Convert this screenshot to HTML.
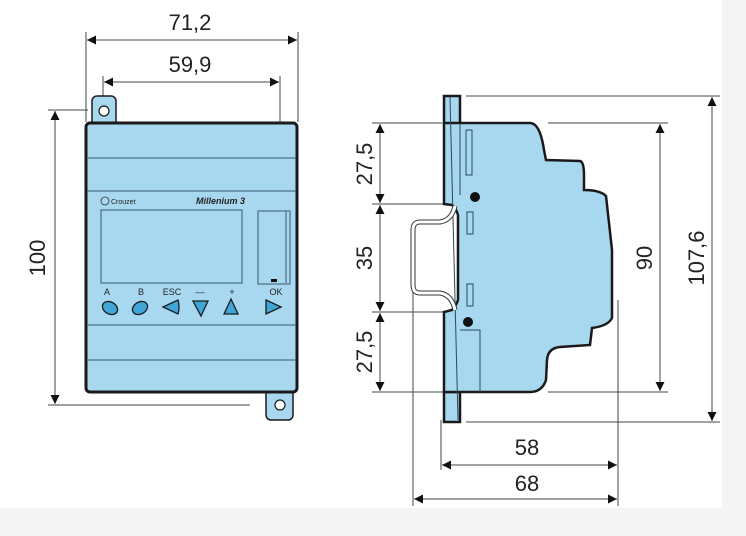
<!DOCTYPE html>
<html><head><meta charset="utf-8"><style>
html,body{margin:0;padding:0;background:#f4f4f4}
svg{display:block}
text{font-family:"Liberation Sans",sans-serif;fill:#222}
</style></head><body>
<svg width="746" height="536" viewBox="0 0 746 536" xmlns="http://www.w3.org/2000/svg">
<defs>
<marker id="a" viewBox="0 0 10 10" refX="10" refY="5" markerWidth="14" markerHeight="9" markerUnits="userSpaceOnUse" orient="auto-start-reverse"><path d="M0,0 L10,5 L0,10 z" fill="#111"/></marker>
</defs>
<rect x="0" y="0" width="722" height="508" fill="#fff"/>
<g stroke="#444" stroke-width="1" fill="none">
<line x1="86" y1="32" x2="86" y2="122"/><line x1="298" y1="32" x2="298" y2="122"/>
<line x1="103" y1="76" x2="103" y2="155"/><line x1="280" y1="76" x2="280" y2="420"/>
<line x1="87" y1="40" x2="297" y2="40" marker-start="url(#a)" marker-end="url(#a)"/>
<line x1="104" y1="82" x2="279" y2="82" marker-start="url(#a)" marker-end="url(#a)"/>
<line x1="48" y1="110" x2="88" y2="110"/><line x1="48" y1="405" x2="250" y2="405"/>
<line x1="55" y1="111" x2="55" y2="404" marker-start="url(#a)" marker-end="url(#a)"/>
<line x1="372" y1="123" x2="442" y2="123"/><line x1="372" y1="204" x2="444" y2="204"/>
<line x1="372" y1="312" x2="446" y2="312"/><line x1="372" y1="392" x2="444" y2="392"/>
<line x1="380" y1="124" x2="380" y2="203" marker-start="url(#a)" marker-end="url(#a)"/>
<line x1="380" y1="205" x2="380" y2="311" marker-start="url(#a)" marker-end="url(#a)"/>
<line x1="380" y1="313" x2="380" y2="391" marker-start="url(#a)" marker-end="url(#a)"/>
<line x1="548" y1="123" x2="668" y2="123"/><line x1="548" y1="392" x2="668" y2="392"/>
<line x1="660" y1="124" x2="660" y2="391" marker-start="url(#a)" marker-end="url(#a)"/>
<line x1="466" y1="96" x2="720" y2="96"/><line x1="466" y1="422" x2="720" y2="422"/>
<line x1="712" y1="97" x2="712" y2="421" marker-start="url(#a)" marker-end="url(#a)"/>
<line x1="441" y1="420" x2="441" y2="470"/><line x1="413" y1="290" x2="413" y2="506"/>
<line x1="618" y1="300" x2="618" y2="506"/>
<line x1="442" y1="465" x2="617" y2="465" marker-start="url(#a)" marker-end="url(#a)"/>
<line x1="414" y1="499" x2="617" y2="499" marker-start="url(#a)" marker-end="url(#a)"/>
</g>
<g stroke="#1a1a1a" fill="#a8d8f0">
<rect x="92" y="96" width="24" height="32" rx="5" stroke-width="1.5"/>
<rect x="266" y="388" width="27" height="32" rx="5" stroke-width="1.5"/>
<rect x="86" y="123" width="211" height="269" rx="4" stroke-width="3"/>
<circle cx="104" cy="111" r="5" fill="#fff" stroke-width="1.2"/>
<circle cx="280" cy="405" r="5" fill="#fff" stroke-width="1.2"/>
</g>
<g stroke="#3a5a6a" stroke-width="1" fill="none">
<line x1="87" y1="158" x2="296" y2="158"/><line x1="87" y1="191" x2="296" y2="191"/>
<line x1="87" y1="325" x2="296" y2="325"/><line x1="87" y1="360" x2="296" y2="360"/>
<rect x="101" y="210" width="141" height="73"/>
<rect x="258" y="211" width="32" height="73"/>
<line x1="286" y1="211" x2="286" y2="283"/>
</g>
<rect x="271" y="279" width="6" height="3" fill="#111"/>
<circle cx="105" cy="201" r="4" fill="none" stroke="#333" stroke-width="0.8"/>
<text x="111" y="204" font-size="7" fill="#234">Crouzet</text>
<text x="196" y="204" font-size="9" font-style="italic" font-weight="bold" fill="#345">Millenium 3</text>
<g font-size="9" fill="#234" text-anchor="middle">
<text x="107" y="295">A</text><text x="141" y="295">B</text><text x="172" y="295">ESC</text><text x="200" y="295">—</text><text x="232" y="295">+</text><text x="276" y="295">OK</text>
</g>
<g fill="#3fa7d6" stroke="#1a1a1a" stroke-width="1.3">
<ellipse cx="110" cy="308" rx="8" ry="6" transform="rotate(30 110 308)"/>
<ellipse cx="140" cy="308" rx="8" ry="6" transform="rotate(-30 140 308)"/>
<path d="M163,307 L178,300 Q180,307 178,314 Z"/>
<path d="M193,301 L208,301 L201,316 Z"/>
<path d="M231,299 L238,314 L224,314 Z"/>
<path d="M266,300 L281,307 L266,314 Z"/>
</g>
<!-- side view -->
<g stroke="#1a1a1a" fill="#a8d8f0" stroke-width="2.5">
<rect x="444" y="96" width="16" height="28"/>
<rect x="444" y="392" width="16" height="30"/>
<path d="M444,123 L530,123 Q540,123 544,150 L546,160 L580,161 Q584,162 584,175 L584,190 Q600,190 606,196 L612,250 L612,318 Q608,326 592,328 L590,345 L560,347 Q548,348 547,360 L546,380 Q542,392 530,392 L444,392 L444,312 L452,310 Q456,306 458,300 L458,215 Q456,208 452,205 L444,204 Z"/>
</g>
<g stroke="#2a4a5a" fill="none" stroke-width="1">
<rect x="466" y="130" width="6" height="45"/>
<rect x="467" y="212" width="6" height="22"/><rect x="467" y="284" width="6" height="22"/>
<path d="M460,124 L460,195"/>
<path d="M460,330 L480,330 L480,392"/>
<path d="M450,97 L458,420"/>
</g>
<circle cx="475" cy="197" r="5" fill="#111"/><circle cx="468" cy="322" r="5" fill="#111"/>
<path d="M455,206 Q452,220 440,222 L420,222 Q413,222 413,230 L413,285 Q413,293 420,293 L440,293 Q452,295 455,310" stroke="#333" stroke-width="5" fill="none"/>
<path d="M455,206 Q452,220 440,222 L420,222 Q413,222 413,230 L413,285 Q413,293 420,293 L440,293 Q452,295 455,310" stroke="#fff" stroke-width="3" fill="none"/>
<g font-size="22">
<text x="190" y="30" text-anchor="middle">71,2</text>
<text x="190" y="72" text-anchor="middle">59,9</text>
<text x="527" y="455" text-anchor="middle">58</text>
<text x="527" y="491" text-anchor="middle">68</text>
<text transform="translate(45,258) rotate(-90)" text-anchor="middle">100</text>
<text transform="translate(372,164) rotate(-90)" text-anchor="middle">27,5</text>
<text transform="translate(372,258) rotate(-90)" text-anchor="middle">35</text>
<text transform="translate(372,352) rotate(-90)" text-anchor="middle">27,5</text>
<text transform="translate(652,258) rotate(-90)" text-anchor="middle">90</text>
<text transform="translate(704,258) rotate(-90)" text-anchor="middle">107,6</text>
</g>
</svg>
</body></html>
